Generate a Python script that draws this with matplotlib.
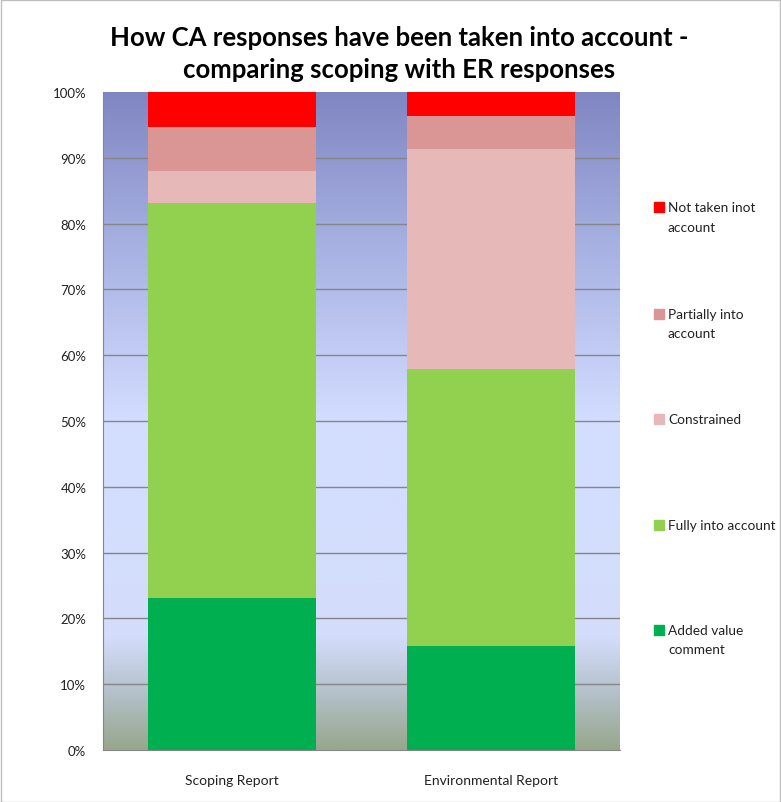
import numpy as np
import matplotlib
matplotlib.use("Agg")
import matplotlib.pyplot as plt
from matplotlib.colors import LinearSegmentedColormap
from matplotlib.patches import Rectangle

categories = ["Scoping Report", "Environmental Report"]
series = ["Added value\ncomment", "Fully into account", "Constrained",
          "Partially into\naccount", "Not taken inot\naccount"]
added_value = [23.1, 15.8]
fully = [60.0, 42.1]
constrained = [4.9, 33.4]
partially = [6.7, 5.1]
not_taken = [5.3, 3.6]
values = [added_value, fully, constrained, partially, not_taken]
colors = ["#00b050", "#92d050", "#e6b9b8", "#d99694", "#ff0000"]
yticks = np.arange(0, 101, 10)

plt.rcParams['font.family'] = ['Lato', 'DejaVu Sans']

fig = plt.figure(figsize=(7.81, 8.03), dpi=100)
W, H = 781, 803
ax = fig.add_axes([103 / W, 1 - 751 / H, (620 - 103) / W, (751 - 93) / H])

# gradient background
cmap = LinearSegmentedColormap.from_list("bg", [
    (0.0, "#97a78d"), (0.08, "#b2bfc6"), (0.17, "#d3ddfb"),
    (0.5, "#d3ddff"), (0.75, "#aab4e4"), (1.0, "#8086c2")])
grad = np.linspace(0, 1, 256).reshape(-1, 1)
ax.imshow(grad, aspect="auto", cmap=cmap, origin="lower",
          extent=[-0.5, 1.5, 0, 100], zorder=0)

for y in yticks[1:-1]:
    ax.axhline(y, color="#868686", lw=1.0, zorder=1)

x = np.arange(len(categories))
bottom = np.zeros(len(categories))
for v, c in zip(values, colors):
    ax.bar(x, v, 0.65, bottom=bottom, color=c, zorder=2, linewidth=0)
    bottom += np.array(v)

ax.set_xlim(-0.5, 1.5)
ax.set_ylim(0, 100)
ax.set_yticks(yticks)
ax.set_yticklabels([f"{t}%" for t in yticks], fontsize=9.5, color="#222222")
ax.set_xticks(x)
ax.set_xticklabels(categories, fontsize=10, color="#222222")
ax.tick_params(axis="x", length=0, pad=17)
ax.tick_params(axis="y", length=0, pad=12)
for s in ["top", "right"]:
    ax.spines[s].set_visible(False)
for s in ["left", "bottom"]:
    ax.spines[s].set_color("#868686")

fig.text(399 / W, 1 - 54 / H,
         "How CA responses have been taken into account -\ncomparing scoping with ER responses",
         ha="center", va="center", multialignment="center", fontsize=18.5,
         fontweight="bold", linespacing=1.35, color="#000000")

# legend (top entry first)
leg_y = [208, 315, 420, 526, 631]
for lab, c, yy in zip(series[::-1], colors[::-1], leg_y):
    fig.patches.append(Rectangle((654 / W, 1 - (yy + 5) / H), 10 / W, 10 / H,
                                 transform=fig.transFigure, color=c))
    fig.text(668 / W, 1 - (yy - 6) / H, lab, ha="left", va="top",
             fontsize=9.8, linespacing=1.75, color="#222222")

fig.patches.append(Rectangle((0.5 / W, 0.5 / H), (W - 1.5) / W, (H - 1.5) / H,
                             transform=fig.transFigure, fill=False,
                             edgecolor="#bfbfbf", lw=1))
fig.savefig("out.png", dpi=100)
